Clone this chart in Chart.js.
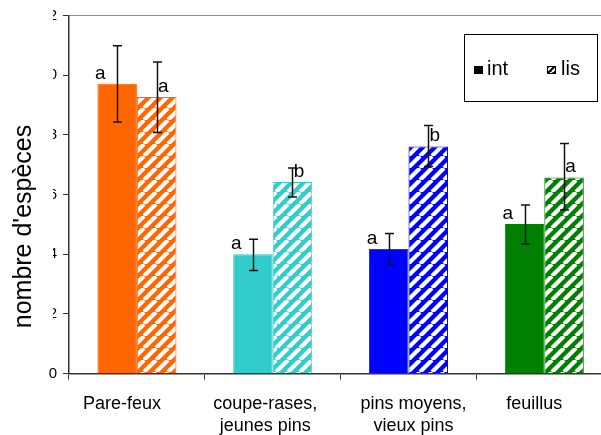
<!DOCTYPE html>
<html><head><meta charset="utf-8">
<script src="https://cdn.jsdelivr.net/npm/chart.js@4.4.1/dist/chart.umd.min.js"></script>
<style>html,body{margin:0;padding:0;background:#fff;overflow:hidden;}canvas{display:block}</style>
</head><body>
<canvas id="c" width="620" height="435"></canvas>
<script>
// ---- data ----
const categories = [['Pare-feux'], ['coupe-rases,', 'jeunes pins'], ['pins moyens,', 'vieux pins'], ['feuillus']];
const seriesNames = ['int', 'lis'];
const intValues = [9.71, 4.00, 4.17, 5.01];
const lisValues = [9.27, 6.42, 7.61, 6.57];
const intErrLow = [8.43, 3.45, 3.63, 4.34];
const intErrHigh = [10.99, 4.50, 4.69, 5.65];
const lisErrLow = [8.08, 5.92, 6.94, 5.48];
const lisErrHigh = [10.44, 6.89, 8.31, 7.71];
const intLetters = ['a', 'a', 'a', 'a'];
const lisLetters = ['a', 'b', 'b', 'a'];
const yTicks = [0, 2, 4, 6, 8, 10, 12];
const yTitle = "nombre d'espèces";

// ---- styles ----
const FONT = "'Liberation Sans', Arial, sans-serif";
const colors = ['#FF6600', '#33CCCC', '#0000FF', '#008000'];
const intBorders = ['#FF6600', '#33CCCC', '#007000', '#008000'];
// horizontal nudge of each category label (in space characters; negative = left)
const labelNudge = [-6, -3, 2, -4];

function nudge(lines, n) {
  const sp = ' '.repeat(Math.abs(n));
  return lines.map(l => n < 0 ? l + sp : sp + l);
}
const axisLabels = categories.map((lines, i) => nudge(lines, labelNudge[i]));

const canvas = document.getElementById('c');
const mainCtx = canvas.getContext('2d');
function hatch(color, size, lw) {
  const c = document.createElement('canvas');
  c.width = size; c.height = size;
  const x = c.getContext('2d');
  x.fillStyle = color; x.fillRect(0, 0, size, size);
  x.strokeStyle = '#fff'; x.lineWidth = lw;
  x.beginPath();
  for (const o of [-size, 0, size]) { x.moveTo(o, size); x.lineTo(o + size, 0); }
  x.stroke();
  return mainCtx.createPattern(c, 'repeat');
}
const lisPatterns = colors.map(c => hatch(c, 12, 4.2));

const errLow = [intErrLow, lisErrLow];
const errHigh = [intErrHigh, lisErrHigh];
const letters = [intLetters, lisLetters];

const decor = {
  id: 'decor',
  beforeDraw(chart) {
    const ys = chart.scales.y;
    if (!ys._patched) {
      const origLabels = ys.drawLabels;
      ys.drawLabels = function (area) {
        const ctx = this.ctx;
        ctx.save();
        ctx.beginPath();
        ctx.rect(53, 0, 2000, 2000);
        ctx.rect(0, 362, 53, 2000);
        ctx.clip();
        origLabels.call(this, area);
        ctx.restore();
      };
      const origTitle = ys.drawTitle;
      ys.drawTitle = function () {
        const ctx = this.ctx;
        ctx.save();
        ctx.translate(0, 32);
        origTitle.call(this);
        ctx.restore();
      };
      ys._patched = true;
    }
  },
  afterDatasetsDraw(chart) {
    const ctx = chart.ctx;
    const y = chart.scales.y;
    ctx.save();
    for (let d = 0; d < 2; d++) {
      const meta = chart.getDatasetMeta(d);
      meta.data.forEach((bar, j) => {
        const x = Math.round(bar.x) + 0.5;
        const yh = y.getPixelForValue(errHigh[d][j]);
        const yl = y.getPixelForValue(errLow[d][j]);
        ctx.strokeStyle = '#111';
        ctx.lineWidth = 1.5;
        ctx.beginPath();
        ctx.moveTo(x, yh); ctx.lineTo(x, yl);
        ctx.moveTo(x - 4.5, yh); ctx.lineTo(x + 4.5, yh);
        ctx.moveTo(x - 4.5, yl); ctx.lineTo(x + 4.5, yl);
        ctx.stroke();
        ctx.fillStyle = '#000';
        ctx.font = '19px ' + FONT;
        ctx.textAlign = 'center';
        ctx.textBaseline = 'alphabetic';
        const lx = d === 0 ? bar.x - bar.width / 2 + 3 : bar.x + 6.5;
        ctx.fillText(letters[d][j], lx, bar.y - 5);
      });
    }
    ctx.restore();
  },
  afterDraw(chart) {
    const ctx = chart.ctx;
    ctx.save();
    ctx.fillStyle = '#fff';
    ctx.fillRect(464.5, 34.5, 133, 67);
    ctx.strokeStyle = '#000';
    ctx.lineWidth = 1;
    ctx.strokeRect(464.5, 34.5, 133, 67);
    ctx.fillStyle = '#000';
    ctx.fillRect(474, 66, 9, 8);
    const p = hatch('#000', 6, 2.2);
    ctx.fillStyle = p;
    ctx.fillRect(547, 66, 9, 8);
    ctx.strokeStyle = '#000';
    ctx.strokeRect(547.5, 66.5, 8, 7);
    ctx.fillStyle = '#000';
    ctx.font = '20px ' + FONT;
    ctx.textBaseline = 'alphabetic';
    ctx.textAlign = 'left';
    ctx.fillText(seriesNames[0], 487, 75);
    ctx.fillText(seriesNames[1], 561, 75);
    ctx.restore();
  }
};

new Chart(canvas, {
  type: 'bar',
  data: {
    labels: axisLabels,
    datasets: [
      { label: seriesNames[0], data: intValues, backgroundColor: colors, borderColor: intBorders, borderWidth: 1 },
      { label: seriesNames[1], data: lisValues, backgroundColor: lisPatterns, borderColor: colors, borderWidth: 1 }
    ]
  },
  options: {
    responsive: false,
    animation: false,
    devicePixelRatio: 1,
    categoryPercentage: 0.582,
    barPercentage: 1,
    layout: { padding: { top: 15.5, right: 7.8, bottom: 0, left: 0 } },
    plugins: { legend: { display: false }, tooltip: { enabled: false } },
    scales: {
      x: {
        ticks: { color: '#000', font: { family: FONT, size: 18, lineHeight: 1.25 }, padding: 13, maxRotation: 0, autoSkip: false },
        grid: { drawOnChartArea: false, tickLength: 6, tickColor: '#333', offset: true },
        border: { color: '#333', width: 1.5 },
        afterFit: s => { s.height = 61.5; }
      },
      y: {
        min: 0, max: 12,
        afterBuildTicks: s => { s.ticks = yTicks.map(v => ({ value: v })); },
        ticks: { color: '#000', font: { family: FONT, size: 15 }, padding: 6 },
        grid: {
          drawOnChartArea: true,
          color: c => (c.tick && c.tick.value === 12) ? '#8c8c8c' : 'rgba(0,0,0,0)',
          tickLength: 6, tickColor: '#333'
        },
        border: { color: '#333', width: 1.5 },
        title: { display: true, text: yTitle, color: '#000', font: { family: FONT, size: 25 }, padding: { top: 9, bottom: 0 } },
        afterFit: s => { s.width = 69; }
      }
    }
  },
  plugins: [decor]
});
</script>
</body></html>
